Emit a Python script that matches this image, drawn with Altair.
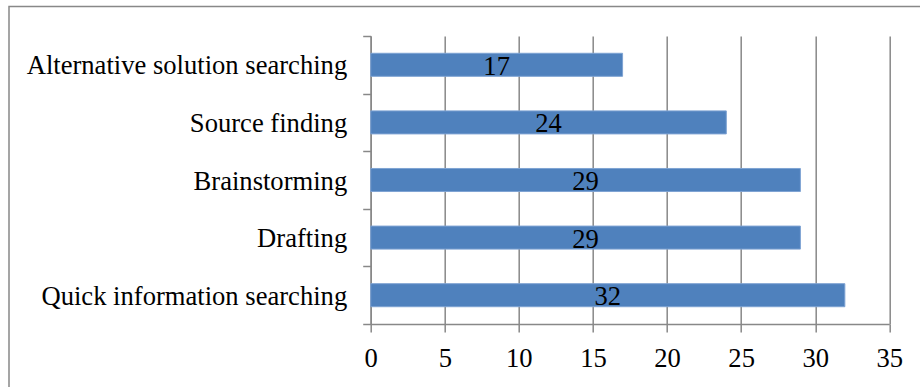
import altair as alt
import pandas as pd

# Uses of the tool, top to bottom as drawn
activities = [
    "Alternative solution searching",
    "Source finding",
    "Brainstorming",
    "Drafting",
    "Quick information searching",
]
counts = [17, 24, 29, 29, 32]
x_ticks = [0, 5, 10, 15, 20, 25, 30, 35]

df = pd.DataFrame({"activity": activities, "count": counts})

FONT = "Liberation Serif"
FS = 26.6
GRAY = "#888888"
BAR = "#4F81BD"

W, H = 518.6, 288

y_enc = alt.Y(
    "activity:N",
    sort=activities,
    title=None,
    scale=alt.Scale(paddingInner=0, paddingOuter=0),
    axis=alt.Axis(
        tickBand="extent",
        grid=False,
        domainColor=GRAY,
        domainWidth=1.5,
        tickColor=GRAY,
        tickWidth=1.5,
        tickSize=8,
        labelPadding=16,
        labelOffset=1,
        labelFont=FONT,
        labelFontSize=FS,
        labelColor="black",
        labelLimit=0,
    ),
)

x_enc = alt.X(
    "count:Q",
    title=None,
    scale=alt.Scale(domain=[0, 35], nice=False, zero=True),
    axis=alt.Axis(
        values=x_ticks,
        grid=True,
        gridColor=GRAY,
        gridWidth=1.5,
        domainColor=GRAY,
        domainWidth=1.5,
        tickColor=GRAY,
        tickWidth=1.5,
        tickSize=8,
        labelPadding=13,
        labelFont=FONT,
        labelFontSize=FS,
        labelColor="black",
        labelFlush=False,
    ),
)

bars = alt.Chart(df).mark_bar(
    height=alt.RelativeBandSize(0.4),
    color=BAR,
    stroke="#7EA3D3",
    strokeWidth=1,
).encode(x=x_enc, y=y_enc)

labels = alt.Chart(df).mark_text(
    font=FONT,
    fontSize=FS,
    color="black",
    baseline="middle",
    align="center",
    dy=2,
).transform_calculate(
    half="datum.count / 2"
).encode(
    x=alt.X("half:Q"),
    y=alt.Y("activity:N", sort=activities),
    text=alt.Text("count:Q"),
)

# outer chart frame (only its top and left edges fall inside the canvas)
frame = alt.Chart(alt.Data(values=[{}])).mark_rect(
    fill=None, stroke=GRAY, strokeWidth=1.5
).encode(
    x=alt.value(-361.7),
    x2=alt.value(W + 60),
    y=alt.value(-29.5),
    y2=alt.value(H + 80),
)

chart = alt.layer(frame, bars, labels).properties(
    width=W,
    height=H,
    autosize=alt.AutoSizeParams(type="none"),
    padding={"left": 370.7, "top": 36, "right": 30.7, "bottom": 63},
    background="white",
).configure_view(stroke=None)

chart.save("out.html", embed_options={"renderer": "svg", "actions": False})
